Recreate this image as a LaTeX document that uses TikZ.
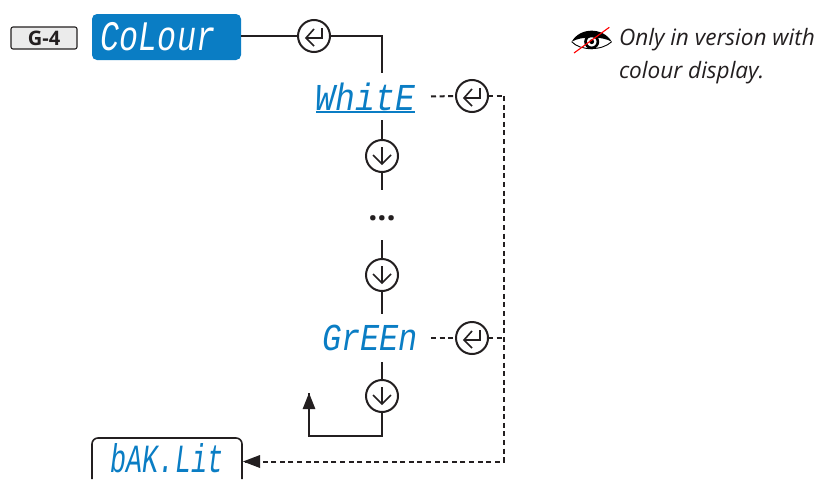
\documentclass[tikz,border=0pt]{standalone}
\usepackage{fontspec}
\setmainfont{Open Sans}
\newfontfamily\segfont{Liberation Mono}[Scale=1]
\usetikzlibrary{arrows.meta,calc}
\definecolor{ink}{HTML}{231F20}
\definecolor{segblue}{HTML}{0A7DC4}
\tikzset{
  x=1pt,y=-1pt,
  wire/.style={draw=ink,line width=2pt},
  dashwire/.style={draw=ink,line width=2pt,dash pattern=on 5pt off 3.6pt},
  keycirc/.style={circle,draw=ink,line width=2pt,fill=white,minimum size=32pt,inner sep=0pt,outer sep=0pt},
  enterkey/.style={keycirc,path picture={
    \draw[ink,line width=1.6pt,shift={(path picture bounding box.center)},line join=miter]
      (0,-7) -- (-8,2) -- (0,10) (-8,2) -- (8,2) -- (8,-8);}},
  downkey/.style={keycirc,path picture={
    \draw[ink,line width=1.6pt,shift={(path picture bounding box.center)}]
      (0,-9) -- (0,8) (-9,-1) -- (0,8) -- (9,-1);}},
  segtext/.style={inner sep=0pt,outer sep=0pt,text=segblue,anchor=center},
}
\newcommand{\seg}[3]{\scalebox{#1}[1]{\fontsize{#2}{#2}\selectfont\segfont\itshape #3}}
\begin{document}
\begin{tikzpicture}
\useasboundingbox (0,0) rectangle (834,479);
\fill[white] (0,0) rectangle (834,479);
% header
\node[draw=ink,fill=black!8,rounded corners=2pt,line width=1.1pt,minimum width=66pt,minimum height=22pt,inner sep=0pt,font=\fontsize{20}{20}\selectfont\bfseries,text=ink] (grp) at (44,38) {G-4};
\node[fill=segblue,rounded corners=5pt,minimum width=149pt,minimum height=46pt,inner sep=0pt,outer sep=0pt] (colour) at (166.5,37) {\color{white}\hspace*{-17pt}\seg{0.755}{42}{CoLour}};
\node[enterkey] (e1) at (314,36) {};
% items
\node[segtext,minimum width=131pt,minimum height=47pt] (white) at (365.5,96.5) {\seg{0.87}{38}{WhitE}};
\draw[segblue,line width=2pt] (316,112) -- (415,112);
\node[downkey] (d1) at (382,156) {};
\node[inner sep=0pt,outer sep=0pt,minimum width=40pt,minimum height=50pt,font=\fontsize{32}{32}\selectfont\bfseries,text=ink] (dots) at (382,218) {...};
\node[downkey] (d3) at (382,275) {};
\node[segtext,minimum width=122pt,minimum height=48pt] (green) at (370,338) {\seg{0.84}{38}{GrEEn}};
\node[downkey] (d2) at (382,396) {};
\node[enterkey] (e2) at (472,96) {};
\node[enterkey] (e3) at (472,338) {};
\node[minimum width=150pt,minimum height=41pt,inner sep=0pt,outer sep=0pt,text=segblue] (back) at (167,458.5) {\raisebox{-7pt}{\seg{0.67}{40}{bAK.Lit}}};
\draw[ink,line width=1.6pt,rounded corners=6pt] (back.south west) |- (back.north) -| (back.south east);
% named free ends
\coordinate (bus) at (504,96);
\coordinate (busmid) at (504,338);
\coordinate (turn) at (309,436);
\coordinate (ret) at (309,393);
\coordinate (backin) at (243,461.5);
% solid connectors
\draw[wire] (colour.east |- e1) -- (e1.west);
\draw[wire] (e1.east) -| (white.north -| d1.north);
\draw[wire] (white.south -| d1.north) -- (d1.north);
\draw[wire] (d1.south) -- (dots.south |- 0,190);
\draw[wire] (dots.south |- 0,240) -- (d3.north);
\draw[wire] (d3.south) -- (green.north -| d3.south);
\draw[wire] (green.south -| d2.north) -- (d2.north);
\draw[wire,line join=miter] (d2.south) |- (turn) -- (ret);
\fill[ink] (ret) -- ++(6.4,16) -- ++(-12.8,0) -- cycle;
% dashed connectors
\draw[dashwire] (white.east) -- (e2.west);
\draw[dashwire] (e2.east) -- (bus);
\draw[dashwire] (green.east) -- (e3.west);
\draw[dashwire] (e3.east) -- (busmid);
\draw[dashwire] (bus) |- (backin);
\fill[ink] (backin) -- ++(17,-6.5) -- ++(0,13) -- cycle;
% note
\fill[black] (571.7,41.7) .. controls (580,27) and (603,27) .. (611.7,41.7) .. controls (602,36) and (581,36) .. cycle;
\draw[black,line width=.9pt] (571.7,41.7) .. controls (580,51) and (602,51) .. (611.7,41.7);
\draw[black,line width=2.6pt] (591.7,41.7) circle (6.2);
\fill[black] (591.7,41.7) circle (2.4);
\draw[red,line width=1.1pt] (574,53) -- (609.3,27.3);
\node[anchor=north west,align=left,inner sep=0pt,outer sep=0pt,text=ink,font=\fontsize{22.6}{33}\selectfont\itshape] (note) at (619,28) {Only in version with\\colour display.};
\end{tikzpicture}
\end{document}
